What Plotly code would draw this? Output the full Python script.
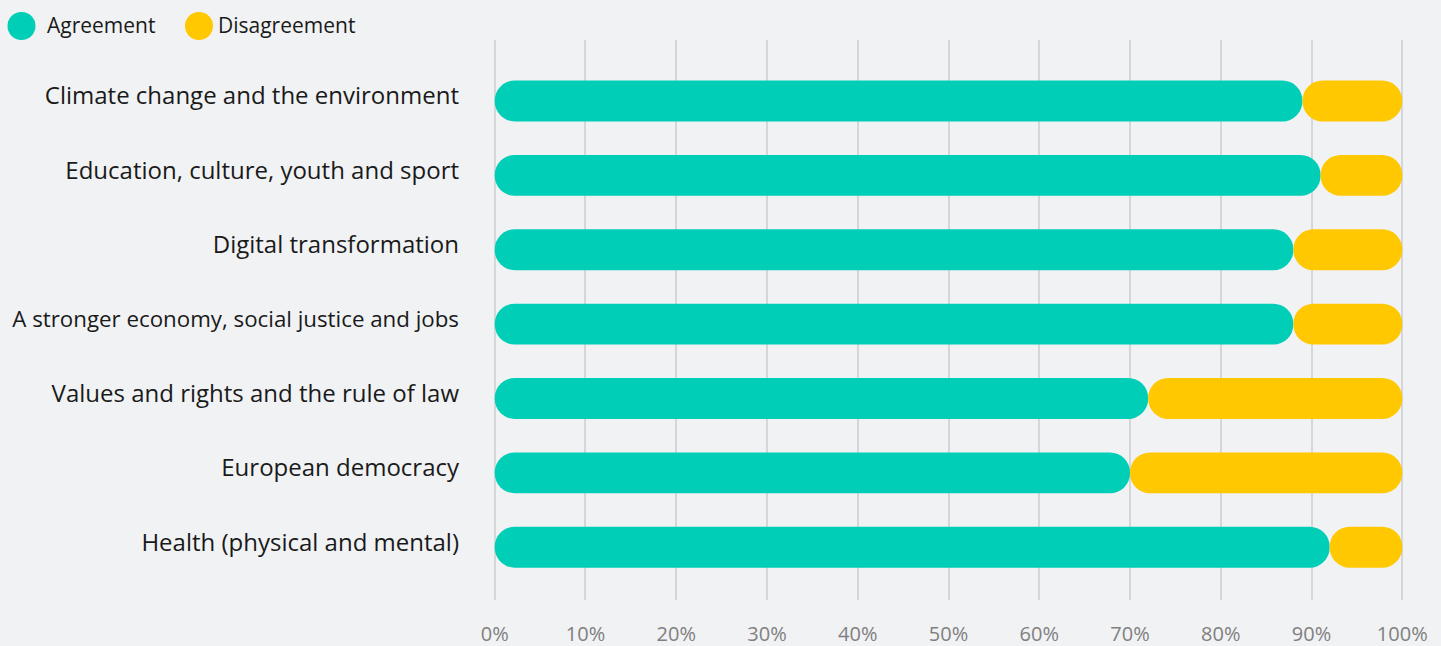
import plotly.graph_objects as go

categories = [
    "Climate change and the environment",
    "Education, culture, youth and sport",
    "Digital transformation",
    "A stronger economy, social justice and jobs",
    "Values and rights and the rule of law",
    "European democracy",
    "Health (physical and mental)",
]
agreement = [89, 91, 88, 88, 72, 70, 92]
disagreement = [11, 9, 12, 12, 28, 30, 8]
series_names = ["Agreement", "Disagreement"]
tick_values = [0, 10, 20, 30, 40, 50, 60, 70, 80, 90, 100]
tick_labels = ["0%", "10%", "20%", "30%", "40%", "50%", "60%", "70%", "80%", "90%", "100%"]

GREEN = "#00CEB6"
YELLOW = "#FFC800"
BG = "#F1F2F4"
FONT = "Open Sans"

W, H = 1441, 646
ml, mr, mt, mb = 492, 36, 40, 46
pw, ph = W - ml - mr, H - mt - mb

# long label is drawn slightly condensed, as in the reference
y_ticktext = [
    ('<span style="font-size:22.3px">%s</span>' % c) if len(c) > 40 else c
    for c in categories
]

fig = go.Figure()
fig.add_trace(go.Bar(
    y=categories, x=agreement, base=[0] * len(agreement), orientation="h",
    name=series_names[0], marker=dict(color=GREEN, cornerradius=21, line=dict(width=0)),
    width=0.55, showlegend=False, hoverinfo="x+y",
))
fig.add_trace(go.Bar(
    y=categories, x=disagreement, base=agreement, orientation="h",
    name=series_names[1], marker=dict(color=YELLOW, cornerradius=21, line=dict(width=0)),
    width=0.55, showlegend=False, hoverinfo="x+y",
))

# custom legend with circles
def px_x(px):
    return (px - ml) / pw

def px_y(py):
    return (H - mb - py) / ph

shapes = []
annotations = []
legend_items = [(21.5, 45, series_names[0], GREEN), (199, 216, series_names[1], YELLOW)]
for cx, tx, name, col in legend_items:
    shapes.append(dict(
        type="circle", xref="paper", yref="paper",
        xsizemode="pixel", ysizemode="pixel",
        xanchor=px_x(cx), yanchor=px_y(26),
        x0=-14, x1=14, y0=-14, y1=14,
        fillcolor=col, line=dict(width=0),
    ))
    annotations.append(dict(
        xref="paper", yref="paper", x=px_x(tx), y=px_y(25),
        xanchor="left", yanchor="middle", text=name, showarrow=False,
        font=dict(family=FONT, size=21, color="#1a1a1a"),
    ))

fig.update_layout(
    width=W, height=H,
    margin=dict(l=ml, r=mr, t=mt, b=mb, autoexpand=False),
    paper_bgcolor=BG, plot_bgcolor=BG,
    barmode="overlay",
    shapes=shapes,
    annotations=annotations,
    xaxis=dict(
        range=[-0.3, 100.3], tickvals=tick_values, ticktext=tick_labels,
        showgrid=True, gridcolor="#D5D6D9", gridwidth=2,
        zeroline=False, showline=False, ticks="",
        tickfont=dict(family=FONT, size=20, color="#808080"),
        ticklabelstandoff=20, fixedrange=True, automargin=False,
    ),
    yaxis=dict(
        categoryorder="array", categoryarray=categories,
        tickmode="array", tickvals=categories, ticktext=y_ticktext,
        range=[6.71, -0.82], showgrid=False, zeroline=False, ticks="",
        tickfont=dict(family=FONT, size=24, color="#1a1a1a"),
        ticklabelstandoff=32, ticklabelshift=5,
        fixedrange=True, automargin=False,
    ),
)

fig.write_html("out.html")
